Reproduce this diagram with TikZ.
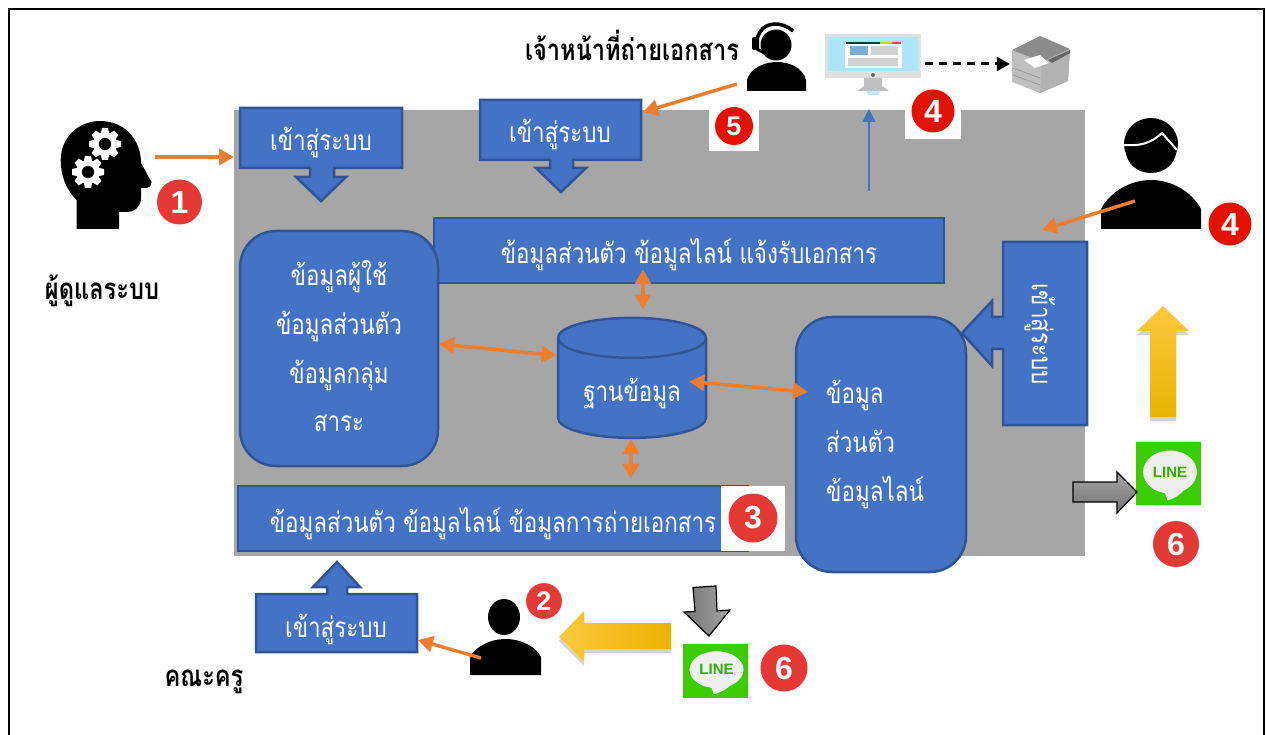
\documentclass[tikz,border=0pt]{standalone}
\usepackage{fontspec}
\usetikzlibrary{arrows.meta}
\usetikzlibrary{shapes.geometric}
\usetikzlibrary{shadows}
\newfontfamily\thaifont[Script=Thai,FakeStretch=0.8]{Loma}
\newfontfamily\thaibold[Script=Thai,FakeStretch=0.8]{Loma Bold}
\setsansfont{Liberation Sans}

\definecolor{boxblue}{HTML}{4472C4}
\definecolor{boxedge}{HTML}{2F5597}
\definecolor{panelgray}{HTML}{A6A6A6}
\definecolor{linkorange}{HTML}{ED7D31}
\definecolor{badgered}{HTML}{E53935}
\definecolor{badgedeep}{HTML}{E41100}
\definecolor{linegreen}{HTML}{3ACE01}
\definecolor{goldlight}{HTML}{FFC83D}
\definecolor{goldmid}{HTML}{FFC000}
\definecolor{golddark}{HTML}{E8B400}

\tikzset{
  infobox/.style={fill=boxblue,draw=boxedge,line width=2.5pt},
  infotext/.style={text=white,font=\thaifont\fontsize{28}{30}\selectfont,inner sep=0pt},
  rolelabel/.style={text=black,font=\thaibold\fontsize{29.5}{32}\selectfont,inner sep=0pt},
  numbadge/.style={circle,fill=#1,text=white,inner sep=0pt,font=\sffamily\bfseries\fontsize{32}{32}\selectfont},
  iconbox/.style={inner sep=0pt,minimum width=0pt},
  linkarrow/.style={draw=linkorange,line width=3.5pt,-{Triangle[length=15pt,width=16pt]}},
  bothways/.style={draw=linkorange,line width=3.5pt,{Triangle[length=15pt,width=16pt]}-{Triangle[length=15pt,width=16pt]}},
  goldarrow/.style={drop shadow={shadow xshift=0pt,shadow yshift=-4pt,opacity=.35}},
  grayarrow/.style={draw=black,line width=1.2pt}
}

% one gear of the head icon
\newcommand{\gearicon}[2]{
  \begin{scope}[shift={(#1,#2)}]
    \foreach \a in {0,45,...,315}
      \fill[white,rotate=\a] (-3,-16) -- (3,-16) -- (4.5,-9) -- (-4.5,-9) -- cycle;
    \fill[white] (0,0) circle (12);
    \fill[black] (0,0) circle (6.2);
  \end{scope}
}

% green square with the speech bubble
\newcommand{\lineicon}[4]{
  \begin{scope}[shift={(#2,#3)},yscale=#4]
    \fill[linegreen] (-32.5,-31.5) rectangle (32.5,31.5);
    \fill[white!94!black] (1.5,-1.5) ellipse (27 and 21.5);
    \fill[white!94!black] (-4,18) -- (-1,27) .. controls (6,25) and (12,21) .. (16,16) -- cycle;
    \node[iconbox,text=linegreen!85!black,font=\sffamily\bfseries\fontsize{15}{15}\selectfont] (#1) at (1.5,-1.5) {LINE};
  \end{scope}
}

\begin{document}
\begin{tikzpicture}[x=1pt,y=-1pt]

\useasboundingbox (0,0) rectangle (1267,735);
\draw[line width=2.5pt] (9,9) rectangle (1264,760);

% panel
\fill[panelgray] (234,110) rectangle (1085,556);

% boxes inside the panel
\node[infobox,infotext,minimum width=510pt,minimum height=65pt,text height=32pt,text depth=5pt] (topbar) at (689,250.5) {ข้อมูลส่วนตัว ข้อมูลไลน์ แจ้งรับเอกสาร};
\draw[infobox,rounded corners=36pt] (240,231) rectangle (438,466);
\node[infotext,align=center] (userdata) at (339,346) {ข้อมูลผู้ใช้\\[17.5pt]ข้อมูลส่วนตัว\\[17.5pt]ข้อมูลกลุ่ม\\[17.5pt]สาระ};
\node[infobox,infotext,shape=cylinder,shape border rotate=90,aspect=.41,minimum width=148pt,minimum height=120pt,text height=31pt,text depth=5pt] (dbase) at (632,388.5) {ฐานข้อมูล};
\node[infobox,infotext,minimum width=510pt,minimum height=65pt,text height=32pt,text depth=5pt] (copybar) at (493,518.5) {ข้อมูลส่วนตัว ข้อมูลไลน์ ข้อมูลการถ่ายเอกสาร};
\fill[white] (721,486) rectangle (785,551);
\draw[infobox,rounded corners=36pt] (796,317) rectangle (966,572);
\node[infotext,align=left] (linedata) at (875,444) {ข้อมูล\\[19pt]ส่วนตัว\\[19pt]ข้อมูลไลน์};

% login boxes
\draw[infobox] (240,108) -- (402,108) -- (402,168) -- (334,168) -- (334,177) -- (346,177) -- (321,201) -- (296,177) -- (310,177) -- (310,168) -- (240,168) -- cycle;
\node[infotext] (loginadmin) at (321,142) {เข้าสู่ระบบ};
\draw[infobox] (480,100) -- (641,100) -- (641,160) -- (573,160) -- (573,168) -- (586,168) -- (561,192) -- (536,168) -- (550,168) -- (550,160) -- (480,160) -- cycle;
\node[infotext] (loginstaff) at (560,134) {เข้าสู่ระบบ};
\draw[infobox] (256,594) -- (327,594) -- (327,587) -- (313,587) -- (337,562) -- (360,587) -- (347,587) -- (347,594) -- (417,594) -- (417,652) -- (256,652) -- cycle;
\node[infotext] (loginteacher) at (336,629) {เข้าสู่ระบบ};
\draw[infobox] (1003,242) -- (1087,242) -- (1087,425) -- (1003,425) -- (1003,349) -- (992,349) -- (992,366) -- (962,333) -- (992,301) -- (992,317) -- (1003,317) -- cycle;
\node[infotext,rotate=-90] (loginuser) at (1040,334) {เข้าสู่ระบบ};

% head with gears
\fill[black] (76.7,229) -- (76.7,200) .. controls (66,190) and (60.7,175) .. (60.7,160) .. controls (60.7,138) and (78,121) .. (100,121) .. controls (125,121) and (141,140) .. (141,163) -- (151.5,182) .. controls (151.5,185) and (150,188) .. (147,188) -- (141,188) -- (141,198) .. controls (141,206) and (135,212) .. (128,212) -- (119,212) -- (119,229) -- cycle;
\gearicon{105}{144}
\gearicon{88}{172}

% staff with headset
\fill[black] (747,91) -- (747,80) .. controls (750,68) and (765,62) .. (776.5,62) .. controls (790,62) and (803,68) .. (806,80) -- (806,91) -- cycle;
\fill[black] (776,45) circle (15.5);
\draw[line width=3.5pt] (793,31) .. controls (782,21) and (766,22) .. (760,32) .. controls (757,37) and (756,42) .. (757,48);
\fill[black,rounded corners=2pt] (752,37) rectangle (759,50);
\draw[line width=3pt] (757,49) -- (772,57);

% monitor
\fill[black!12] (825,34) rectangle (921,78);
\fill[cyan!32] (828,37) rectangle (918,71);
\fill[white] (845,42) rectangle (902,68);
\fill[blue!40!cyan!50!gray!70] (850,46) rectangle (868,55);
\fill[black!18] (871,46) rectangle (898,55);
\fill[black!18] (848,58) rectangle (898,66);
\fill[black!50!teal] (846,42) rectangle (880,44);
\fill[yellow!70!green] (880,42) rectangle (892,44);
\fill[red!70] (892,42) rectangle (901,44);
\fill[black!60] (873,75) circle (2);
\fill[black!25] (864,78) -- (882,78) -- (882,86) -- (889,91) -- (857,91) -- (864,86) -- cycle;
\fill[cyan!25] (866,91) -- (880,91) -- (878,95) -- (868,95) -- cycle;
\node[iconbox,minimum width=102pt,minimum height=60pt] (monitor) at (874,64) {};

% printer
\fill[black!25] (1012,50) -- (1042,62) -- (1070,49) -- (1068,81) -- (1040,93) -- (1012,82) -- cycle;
\fill[black!45] (1012,50) -- (1040,36) -- (1070,49) -- (1042,62) -- cycle;
\fill[black!30] (1042,62) -- (1070,49) -- (1068,81) -- (1040,93) -- cycle;
\fill[black!60] (1048,60) -- (1070,50) -- (1070,53) -- (1052,63) -- cycle;
\fill[white] (1024,60) -- (1040,55) -- (1049,63) -- (1035,68) -- cycle;
\draw[black!40,line width=.8pt] (1013,68) -- (1040,78) (1013,75) -- (1040,85);
\node[iconbox,minimum width=60pt,minimum height=58pt] (printer) at (1040,64) {};

% user at the right
\fill[black] (1101,229) -- (1101,209) .. controls (1110,192) and (1130,180) .. (1151,180) .. controls (1172,180) and (1192,192) .. (1201,209) -- (1201,229) -- cycle;
\fill[black] (1151,144) ellipse (27 and 26);
\fill[black] (1151,151) ellipse (25 and 22);
\draw[white,line width=2pt] (1123,145) .. controls (1140,146) and (1150,144) .. (1162,133) -- (1177,150);

% teacher
\fill[black] (470,675) -- (470,657) .. controls (475,647) and (490,639) .. (505,639) .. controls (522,639) and (536,647) .. (541,657) -- (541,675) -- cycle;
\fill[black] (504,617) ellipse (16 and 18);

% role labels
\node[rolelabel] (rolestaff) at (632,45) {เจ้าหน้าที่ถ่ายเอกสาร};
\node[rolelabel] (roleadmin) at (102,291) {ผู้ดูแลระบบ};
\node[rolelabel] (roleteacher) at (204,682) {คณะครู};

% line icons
\lineicon{lineright}{1168.5}{473.5}{1}
\lineicon{linebottom}{715}{671}{.86}

% gold and gray block arrows
\shade[goldarrow,top color=goldlight,middle color=goldmid,bottom color=golddark] (1150,417) -- (1150,331) -- (1137,331) -- (1163,306) -- (1189,331) -- (1176,331) -- (1176,417) -- cycle;
\shade[goldarrow,left color=goldlight,middle color=goldmid,right color=golddark] (671,623) -- (584,623) -- (584,611) -- (559,637) -- (584,662) -- (584,649) -- (671,649) -- cycle;
\shade[grayarrow,top color=black!35,bottom color=black!55] (1073,482) -- (1117,482) -- (1117,472) -- (1137,492) -- (1117,513) -- (1117,502) -- (1073,502) -- cycle;
\shade[grayarrow,left color=black!55,right color=black!35] (693,587.5) -- (716,586) -- (717,611) -- (730,610) -- (709,636) -- (684,612) -- (695,611.5) -- cycle;

% badges
\fill[white] (905,110) rectangle (961,139);
\fill[white] (709,110) rectangle (759,151);
\node[numbadge=badgered,minimum size=45pt] (badgeone) at (179.5,202) {1};
\node[numbadge=badgered,minimum size=38pt,draw=white,line width=2pt,font=\sffamily\bfseries\fontsize{27}{27}\selectfont] (badgetwo) at (544,601) {2};
\node[numbadge=badgered,minimum size=49pt] (badgethree) at (753,518) {3};
\node[numbadge=badgedeep,minimum size=43pt] (badgefour) at (933,111) {4};
\node[numbadge=badgedeep,minimum size=38pt,font=\sffamily\bfseries\fontsize{27}{27}\selectfont] (badgefive) at (734,126) {5};
\node[numbadge=badgedeep,minimum size=43pt] (badgefourb) at (1230,224) {4};
\node[numbadge=badgered,minimum size=46pt] (badgesix) at (1176,544) {6};
\node[numbadge=badgered,minimum size=47pt] (badgesixb) at (784,668) {6};

% free ends of the connectors
\coordinate (adminout) at (155,157);
\coordinate (admintip) at (234,157);
\coordinate (staffout) at (737,84);
\coordinate (stafftip) at (643,112);
\coordinate (userout) at (1135,201);
\coordinate (usertip) at (1042,230);
\coordinate (teacherout) at (481,658);
\coordinate (teachertip) at (418,640);
\coordinate (monitortip) at (869,109);
\coordinate (userdataout) at (439,344);
\coordinate (linedatain) at (808,392);

% connectors
\draw[linkarrow] (adminout) -- (admintip);
\draw[linkarrow] (staffout) -- (stafftip);
\draw[linkarrow] (userout) -- (usertip);
\draw[linkarrow] (teacherout) -- (teachertip);
\draw[bothways] ([xshift=-46pt,yshift=15pt]topbar.south) -- ([xshift=11pt,yshift=7pt]dbase.north);
\draw[bothways] (userdataout) -- ([yshift=33pt]dbase.west);
\draw[bothways] ([xshift=-18pt,yshift=7pt]dbase.east) -- (linedatain);
\draw[bothways] ([xshift=-1pt]dbase.south) -- ([xshift=138pt,yshift=6pt]copybar.north);
\draw[boxblue,line width=1.2pt,-{Triangle[length=13pt,width=13pt]}] ([xshift=180pt,yshift=26pt]topbar.north) -- (monitortip);
\draw[line width=3pt,dash pattern=on 8pt off 6pt,-{Triangle[length=13pt,width=14pt]}] (monitor.east) -- (printer.west);

\end{tikzpicture}
\end{document}
